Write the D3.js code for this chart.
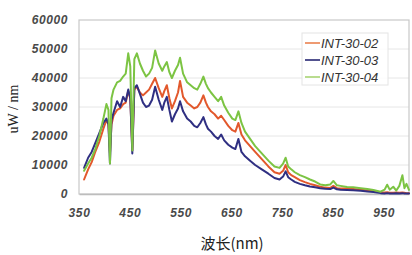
<!DOCTYPE html>
<html>
<head>
<meta charset="utf-8">
<script src="https://cdn.jsdelivr.net/npm/d3@7"></script>
<style>
  body { margin: 0; background: #fff; }
  svg { display: block; }
</style>
</head>
<body>
<div class="spectrum"></div>
<script>
const width = 412
const height = 255
const margin = { top: 20, right: 3, bottom: 61, left: 79 }

// wavelength grid (nm) shared by the three series
const wavelengths = [360, 368, 375, 382, 390, 398, 404, 408, 411, 414, 418, 425, 431, 437, 442, 447, 451, 455, 459, 464,
    470, 476, 482, 488, 494, 500, 507, 514, 518, 523, 528, 533, 539, 545, 549, 555, 563, 570, 577, 583,
    589, 595, 600, 604, 610, 617, 624, 630, 636, 644, 652, 658, 664, 670, 677, 687, 697, 710, 723, 735,
    745, 752, 757, 762, 768, 775, 785, 795, 805, 815, 825, 835, 845, 851, 858, 865, 878, 890, 905, 918,
    930, 944, 952, 957, 962, 969, 975, 981, 987, 991, 995, 1000]

const int3002 = [5000, 8500, 11000, 14500, 18000, 22500, 25500, 24000, 14000, 24000, 27000, 29000, 29500, 31000, 31500, 35500, 33000, 15000, 36000, 37000,
    35000, 34000, 35000, 36000, 38000, 40000, 36500, 33500, 35500, 37500, 33000, 29500, 32000, 35000, 39000, 33500, 31500, 30500, 29500, 30000,
    31500, 34000, 31500, 30000, 28500, 27500, 26000, 27000, 25500, 23500, 22000, 21500, 24500, 20500, 18500, 16500, 14500, 12000, 9500, 7500,
    7000, 8000, 10000, 7500, 6500, 5800, 4800, 4100, 3500, 3000, 2500, 2200, 2100, 2800, 2000, 1900, 1900, 1700, 1500, 1200,
    1000, 600, 500, 600, 400, 400, 500, 400, 500, 400, 300, 300]

const int3003 = [9000, 12500, 14500, 17500, 21000, 24500, 26000, 24000, 10500, 25500, 28000, 32000, 30000, 33500, 32000, 36000, 33000, 14000, 36500, 37500,
    34500, 31500, 30000, 30500, 32500, 37000, 32500, 29000, 31500, 33500, 29000, 25000, 27500, 29500, 32000, 28500, 26000, 25000, 23500, 23000,
    24500, 26500, 24000, 22500, 21500, 20000, 19000, 20500, 18500, 17000, 16000, 15500, 19000, 14500, 13000, 11500, 10000, 8500, 7000, 5500,
    5000, 6000, 7800, 5800, 5000, 4200, 3500, 3000, 2600, 2300, 2000, 1800, 1700, 2200, 1600, 1500, 1400, 1300, 1100, 900,
    700, 300, 200, 300, 200, 200, 300, 200, 300, 200, 200, 200]

const int3004 = [8000, 10500, 12500, 15500, 20000, 26000, 31000, 29000, 10500, 33000, 36000, 38500, 39000, 40500, 41500, 48500, 44000, 15000, 46500, 48500,
    45000, 42500, 40500, 41500, 43500, 49500, 45000, 42500, 44000, 45500, 42000, 40000, 42500, 44500, 47000, 41500, 38500, 37500, 36500, 36000,
    38000, 40500, 38000, 36500, 35000, 33500, 32000, 33500, 30500, 28000, 26000, 25500, 28500, 24500, 21500, 19000, 16500, 14000, 11500, 9500,
    9000, 10500, 12500, 9500, 8500, 7500, 6500, 5800, 5000, 4300, 3300, 3000, 3300, 4500, 3000, 2800, 2400, 2300, 2000, 1700,
    1400, 800, 1500, 3200, 1500, 2500, 1200, 2800, 6500, 2000, 3500, 1400]

const seriesNames = ["INT-30-02", "INT-30-03", "INT-30-04"]
const xTicks = [350, 450, 550, 650, 750, 850, 950]
const yTicks = [0, 10000, 20000, 30000, 40000, 50000, 60000]

const lineColors = { "INT-30-02": "#e2582c", "INT-30-03": "#2f2f82", "INT-30-04": "#7cc443" }
const legendColors = { "INT-30-02": "#ee9a72", "INT-30-03": "#52528f", "INT-30-04": "#b9dc8f" }

const series = [
    { name: "INT-30-02", values: int3002 },
    { name: "INT-30-03", values: int3003 },
    { name: "INT-30-04", values: int3004 }
].map(s => ({ name: s.name, points: wavelengths.map((w, i) => ({ nm: w, v: s.values[i] })) }))

const x = d3.scaleLinear()
    .domain([350, 1000])
    .range([margin.left, width - margin.right])
const y = d3.scaleLinear()
    .domain([0, 60000])
    .range([height - margin.bottom, margin.top])

const svg = d3.select(".spectrum")
    .append("svg")
    .attr("width", width)
    .attr("height", height)

// gridlines
svg.append("g")
    .selectAll("line")
    .data(yTicks.slice(1, -1))
    .join("line")
    .attr("x1", x(350))
    .attr("x2", x(1000))
    .attr("y1", d => y(d))
    .attr("y2", d => y(d))
    .attr("stroke", "#e6e6e6")
    .attr("stroke-width", 1)

// plot frame
svg.append("rect")
    .attr("x", x(350))
    .attr("y", y(60000))
    .attr("width", x(1000) - x(350))
    .attr("height", y(0) - y(60000))
    .attr("fill", "none")
    .attr("stroke", "#c8c8c8")
    .attr("stroke-width", 1.2)

// axes
function styleTicks(sel) {
    sel.attr("font-family", "'Liberation Sans', Arial, sans-serif")
        .attr("font-size", 12)
        .attr("font-weight", "bold")
        .attr("font-style", "italic")
        .attr("fill", "#4a4a4a")
        .attr("letter-spacing", "0.6px")
}

const yAxis = d3.axisLeft(y).tickValues(yTicks).tickFormat(d3.format("d")).tickSize(0).tickPadding(11)
svg.append("g")
    .attr("transform", `translate(${margin.left}, 0)`)
    .call(yAxis)
    .call(g => g.select(".domain").remove())
    .selectAll("text")
    .call(styleTicks)

const xAxis = d3.axisBottom(x).tickValues(xTicks).tickFormat(d3.format("d")).tickSize(0).tickPadding(14)
svg.append("g")
    .attr("transform", `translate(0, ${height - margin.bottom})`)
    .call(xAxis)
    .call(g => g.select(".domain").attr("stroke", "#bdbdbd").attr("stroke-width", 1.5))
    .selectAll("text")
    .call(styleTicks)

// lines
const line = d3.line()
    .x(d => x(d.nm))
    .y(d => y(d.v))

svg.append("g")
    .selectAll("path.line")
    .data(series)
    .join("path")
    .attr("class", "line")
    .attr("fill", "none")
    .attr("stroke", d => lineColors[d.name])
    .attr("stroke-width", 2)
    .attr("stroke-linejoin", "round")
    .attr("stroke-linecap", "round")
    .attr("d", d => line(d.points))

// legend
const legend = svg.append("g")
    .attr("transform", "translate(302, 33)")

legend.append("rect")
    .attr("width", 86)
    .attr("height", 52)
    .attr("fill", "#fff")
    .attr("fill-opacity", 0.85)
    .attr("stroke", "#e4e4e4")

const items = legend.selectAll("g.item")
    .data(seriesNames)
    .join("g")
    .attr("class", "item")
    .attr("transform", (d, i) => `translate(0, ${10 + i * 17})`)

items.append("line")
    .attr("x1", 3)
    .attr("x2", 18)
    .attr("stroke", d => legendColors[d])
    .attr("stroke-width", 2)

items.append("text")
    .text(d => d)
    .attr("x", 19)
    .attr("dy", "0.35em")
    .attr("fill", "#333")
    .attr("font-family", "'Liberation Sans', Arial, sans-serif")
    .attr("font-size", 13)
    .attr("font-style", "italic")

// axis titles
svg.append("text")
    .text("uW / nm")
    .attr("transform", `translate(18, 109) rotate(-90)`)
    .attr("text-anchor", "middle")
    .attr("fill", "#222")
    .attr("font-family", "'Liberation Serif', 'DejaVu Serif', serif")
    .attr("font-size", 14)

svg.append("text")
    .text("波长(nm)")
    .attr("x", 232)
    .attr("y", 249)
    .attr("text-anchor", "middle")
    .attr("fill", "#222")
    .attr("font-family", "'Noto Sans CJK SC', 'Liberation Serif', serif")
    .attr("font-size", 15)
</script>
</body>
</html>
